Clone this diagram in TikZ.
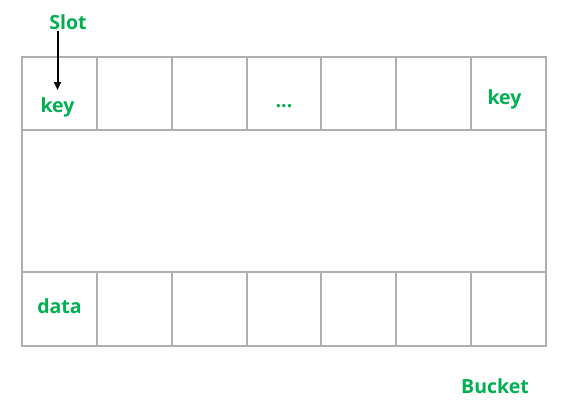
\documentclass[tikz,border=0pt]{standalone}
\usepackage{fontspec}
\setmainfont{Open Sans}
\usetikzlibrary{arrows.meta}
\definecolor{labelgreen}{RGB}{0,176,80}
\definecolor{gridgray}{RGB}{175,175,175}
\tikzset{
  label/.style={text=labelgreen, font=\fontsize{19.5}{22}\selectfont\bfseries, anchor=base, inner sep=0pt},
  gridline/.style={draw=gridgray, line width=2pt},
  pointer/.style={-{Triangle[width=7pt,length=8pt]}, line width=2pt, black}
}
\begin{document}
\begin{tikzpicture}[x=1pt,y=-1pt]
\useasboundingbox (0,0) rectangle (564,407);

\node[label] (slot) at (68,29) {Slot};
\node[label] (keyA) at (57.5,112) {key};
\node[label] (dots) at (284,107) {...};
\node[label] (keyB) at (504.5,104) {key};
\node[label] (data) at (59.5,313) {data};
\node[label] (bucket) at (495,393) {Bucket};

\draw[gridline] (22,57) rectangle (546,346);
\foreach \y in {130,272}
	\draw[gridline] (22,\y) -- (546,\y);
\foreach \x in {96.9,171.7,246.6,321.4,396.3,471.1}{
	\draw[gridline] (\x,57) -- (\x,130);
	\draw[gridline] (\x,272) -- (\x,346);
}

\coordinate (slot_) at (57.5,31);
\coordinate (key_) at (57.5,90);
\draw[pointer] (slot_) -- (key_);

\end{tikzpicture}
\end{document}
